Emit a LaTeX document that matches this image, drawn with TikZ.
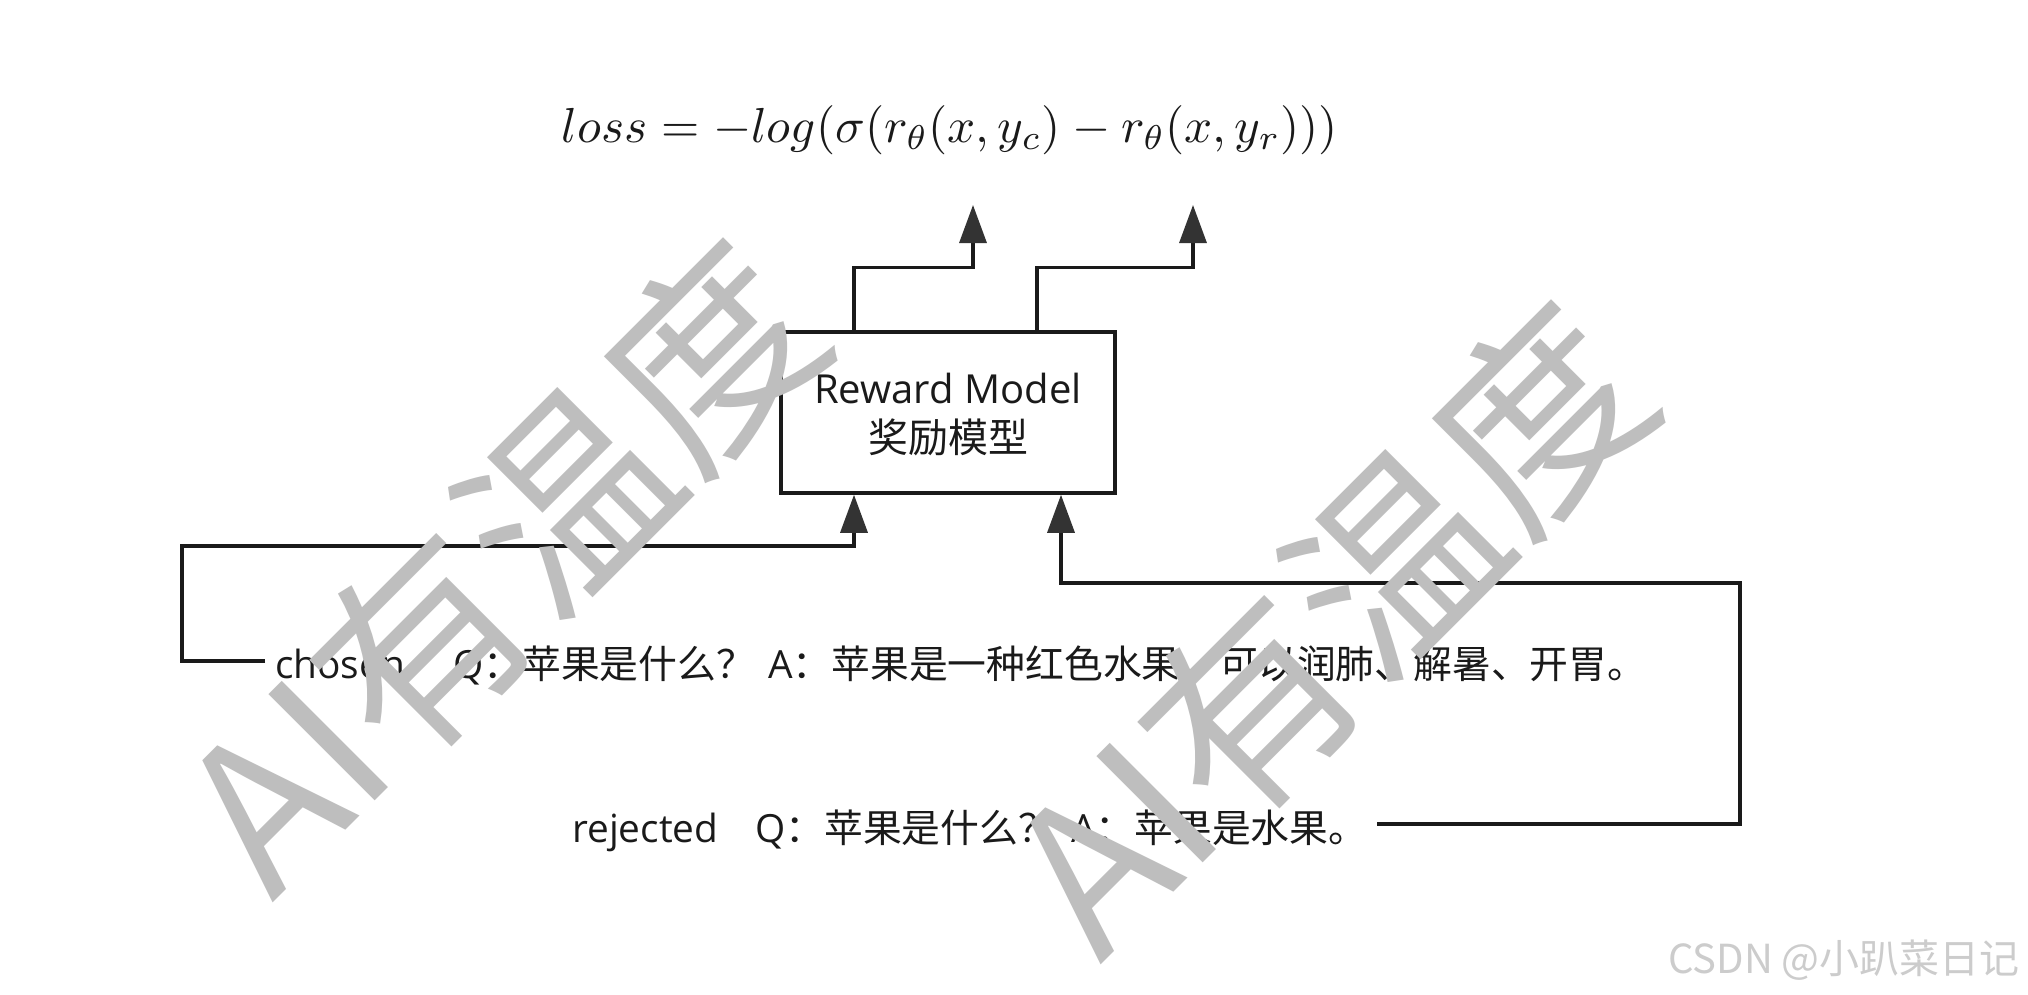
\documentclass[tikz,border=0pt]{standalone}
\usepackage{fontspec}
\setmainfont{Open Sans}
\newfontfamily\cjk{Noto Sans CJK SC}
\usetikzlibrary{arrows.meta}
\definecolor{ln}{HTML}{1A1A1A}
\definecolor{tipc}{HTML}{333333}
\definecolor{wmc}{HTML}{BEBEBE}
\definecolor{csdnc}{HTML}{CCCCCC}
\begin{document}
\begin{tikzpicture}[x=1pt,y=-1pt,
  lbl/.style={inner sep=0pt, anchor=base west, text=ln, font=\fontsize{38.8}{46}\selectfont},
  boxlbl/.style={inner sep=0pt, anchor=base, text=ln, font=\fontsize{40}{48}\selectfont},
  conn/.style={line width=3.3pt, draw=ln},
  arr/.style={conn, -{Triangle[length=38pt,width=27pt,color=tipc]}},
  box/.style={draw=ln, line width=3.5pt, minimum width=334pt, minimum height=161pt, inner sep=0pt},
  wmark/.style={text=wmc, inner sep=0pt, font=\cjk\fontsize{205}{220}\selectfont, rotate=45},
]
\fill[white] (0,0) rectangle (2028,994);
\useasboundingbox (0,0) rectangle (2028,994);

% formula
\node[anchor=base, inner sep=0pt, text=ln] (loss) at (950,142)
  {\scalebox{4.92}{$loss = -log(\sigma(r_{\theta}(x, y_c) - r_{\theta}(x, y_r)))$}};

% reward model box
\node[box] (rm) at (948,412.5) {};
\node[boxlbl] (rmt1) at (948,403) {Reward Model};
\node[boxlbl] (rmt2) at (948,452) {\cjk 奖励模型};

% texts
\node[lbl] (c1) at (275,678) {chosen};
\node[lbl] (c2) at (453,678) {Q{\cjk ：苹果是什么？}};
\node[lbl] (c3) at (768,678) {A{\cjk ：苹果是一种红色水果，可以润肺、解暑、开胃。}};
\node[lbl] (r1) at (572,842) {rejected};
\node[lbl] (r2) at (755,842) {Q{\cjk ：苹果是什么？}};
\node[lbl] (r3) at (1071,842) {A{\cjk ：苹果是水果。}};

% connector ends
\coordinate (t1) at (973,205);
\coordinate (t2) at (1193,205);
\coordinate (cs) at (265,661);
\coordinate (rs) at (1377,824);

% connectors
\draw[arr] ([xshift=-94pt]rm.north) -- ++(0,-63) -| (t1);
\draw[arr] ([xshift=89pt]rm.north) -- ++(0,-63) -| (t2);
\draw[arr] (cs) -| (182,546) -| ([xshift=-94pt]rm.south);
\draw[arr] (rs) -| (1740,583) -| ([xshift=113pt]rm.south);

% watermarks
\node[wmark] (wm1) at (500,565) {AI有温度};
\node[wmark] (wm2) at (1328,627) {AI有温度};
\node[anchor=base east, inner sep=0pt, text=csdnc, font=\cjk\fontsize{40}{48}\selectfont] (csdn) at (2020,973) {CSDN @小趴菜日记};
\end{tikzpicture}
\end{document}
